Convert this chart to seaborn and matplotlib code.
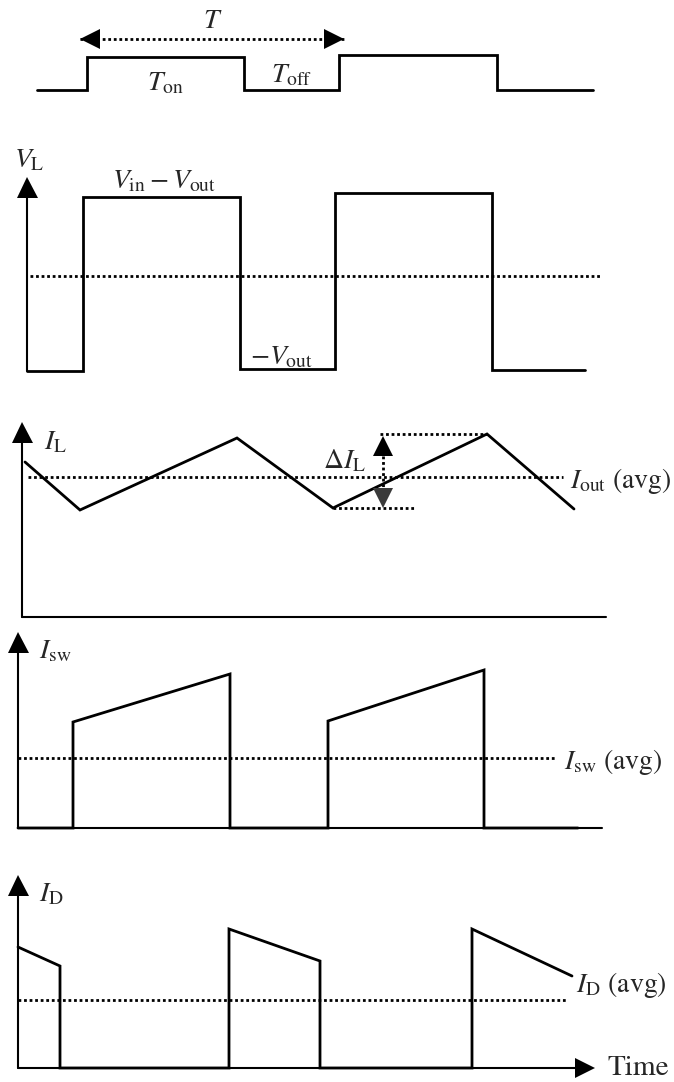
import matplotlib
matplotlib.use("Agg")
import matplotlib.pyplot as plt
import seaborn as sns

sns.set_theme(style="white")
plt.rcParams["font.family"] = ["STIXGeneral", "DejaVu Serif"]
plt.rcParams["mathtext.fontset"] = "stix"

# ---- waveform data (shared time axis, arbitrary units) ----
# gate drive signal
gate_t = [1.9, 6.9, 6.9, 22.6, 22.6, 32.1, 32.1, 47.9, 47.9, 57.5]
gate_v = [0, 0, 3.3, 3.3, 0, 0, 3.5, 3.5, 0, 0]
period_span = [6.2, 32.6]

# inductor voltage
vl_t = [0.9, 6.5, 6.5, 22.2, 22.2, 31.7, 31.7, 47.4, 47.4, 56.7]
vl_v = [-9.5, -9.5, 7.9, 7.9, -9.3, -9.3, 8.3, 8.3, -9.4, -9.4]
vl_avg = 0.0

# inductor current
il_t = [0.7, 6.2, 21.9, 31.5, 46.9, 55.6]
il_v = [15.5, 10.7, 17.9, 10.9, 18.3, 10.8]
il_avg = 14.0

# switch current
isw_t = [0.0, 5.5, 5.5, 21.2, 21.2, 31.0, 31.0, 46.6, 46.6, 56.0]
isw_v = [0, 0, 10.6, 15.4, 0, 0, 10.7, 15.8, 0, 0]
isw_avg = 7.0

# diode current
id_t = [0.0, 4.2, 4.2, 21.1, 21.1, 30.2, 30.2, 45.4, 45.4, 55.4]
id_v = [12.1, 10.2, 0, 0, 13.9, 10.7, 0, 0, 13.9, 9.2]
id_avg = 6.8

# panel bands on the page: (top, bottom, baseline) in pixels
W, H = 674, 1082
SCALE = 10.0
bands = {
    "gate": (0, 125, 90),
    "vl": (125, 400, 276),
    "il": (400, 630, 617),
    "isw": (630, 845, 828),
    "id": (845, 1082, 1068),
}

LW = 2.0
AXLW = 1.5
DOT = dict(color="black", linestyle=(0, (1.0, 1.0)), linewidth=2.0,
           dash_capstyle="butt")
FS = 20

fig = plt.figure(figsize=(W / 100, H / 100), dpi=100)
fig.patch.set_facecolor("white")


def make_axes(key):
    top, bottom, base = bands[key]
    ax = fig.add_axes([0, 1 - bottom / H, 1, (bottom - top) / H])
    ax.set_xlim(-18 / SCALE, (W - 18) / SCALE)
    ax.set_ylim((base - bottom) / SCALE, (base - top) / SCALE)
    ax.set_axis_off()
    return ax


def trace(ax, t, v):
    sns.lineplot(x=t, y=v, ax=ax, sort=False, estimator=None,
                 color="black", linewidth=LW, legend=False)
    for ln in ax.lines:
        ln.set_solid_joinstyle("miter")


def dotted(ax, t0, t1, y):
    ax.plot([t0, t1], [y, y], **DOT)


def up_arrow_axis(ax, t, y0, tip, head=2.0, color="black"):
    ax.plot([t, t], [y0, tip - head], color="black", linewidth=AXLW)
    ax.plot([t], [tip - head / 2], marker="^", markersize=head * 10 * 0.72 * 1.05,
            color=color, markeredgewidth=0)


# ---- gate signal ----
ax = make_axes("gate")
trace(ax, gate_t, gate_v)
ax.plot(period_span, [5.1, 5.1], **DOT)
ax.plot([period_span[0] + 1.0], [5.1], marker="<", markersize=15,
        color="black", markeredgewidth=0)
ax.plot([period_span[1] - 1.0], [5.1], marker=">", markersize=15,
        color="black", markeredgewidth=0)
ax.text(19.5, 6.9, r"$T$", fontsize=FS, ha="center", va="center")
ax.text(14.7, 0.6, r"$T_{\mathrm{on}}$", fontsize=FS, ha="center", va="center")
ax.text(27.4, 1.4, r"$T_{\mathrm{off}}$", fontsize=FS, ha="center", va="center")

# ---- inductor voltage ----
ax = make_axes("vl")
up_arrow_axis(ax, 0.9, -9.5, 9.9)
trace(ax, vl_t, vl_v)
dotted(ax, 1.2, 58.2, vl_avg)
ax.text(1.1, 11.5, r"$V_{\mathrm{L}}$", fontsize=FS, ha="center", va="center")
ax.text(14.6, 9.4, r"$V_{\mathrm{in}} - V_{\mathrm{out}}$", fontsize=FS,
        ha="center", va="center")
ax.text(26.3, -8.2, r"$-V_{\mathrm{out}}$", fontsize=FS, ha="center", va="center")

# ---- inductor current ----
ax = make_axes("il")
up_arrow_axis(ax, 0.4, 0, 19.5)
ax.plot([0.4, 58.8], [0, 0], color="black", linewidth=AXLW)
trace(ax, il_t, il_v)
dotted(ax, 1.0, 54.5, il_avg)
ripple_top, ripple_bot = max(il_v[3:5]), min(il_v[3:5])
dotted(ax, 36.2, il_t[4], ripple_top)
dotted(ax, il_t[3], 39.7, ripple_bot)
ax.plot([36.5, 36.5], [ripple_top - 2.2, ripple_bot + 2.0], **DOT)
ax.plot([36.5], [ripple_top - 1.2], marker="^", markersize=15,
        color="black", markeredgewidth=0)
ax.plot([36.5], [ripple_bot + 1.05], marker="v", markersize=15,
        color="#3a3a3a", markeredgewidth=0)
ax.text(2.6, 17.4, r"$I_{\mathrm{L}}$", fontsize=FS, ha="left", va="center")
ax.text(32.6, 15.6, r"$\Delta I_{\mathrm{L}}$", fontsize=FS, ha="center",
        va="center")
ax.text(55.2, 13.6, r"$I_{\mathrm{out}}$ (avg)", fontsize=FS, ha="left",
        va="center")

# ---- switch current ----
ax = make_axes("isw")
up_arrow_axis(ax, 0.0, 0, 19.6)
ax.plot([0, 58.4], [0, 0], color="black", linewidth=AXLW)
trace(ax, isw_t, isw_v)
dotted(ax, 0.0, 53.8, isw_avg)
ax.text(2.1, 17.6, r"$I_{\mathrm{sw}}$", fontsize=FS, ha="left", va="center")
ax.text(54.6, 6.6, r"$I_{\mathrm{sw}}$ (avg)", fontsize=FS, ha="left",
        va="center")

# ---- diode current ----
ax = make_axes("id")
up_arrow_axis(ax, 0.0, 0, 19.3)
ax.plot([0, 55.7], [0, 0], color="black", linewidth=AXLW)
ax.plot([56.7], [0], marker=">", markersize=15, color="black",
        markeredgewidth=0)
trace(ax, id_t, id_v)
dotted(ax, 0.0, 54.8, id_avg)
ax.text(2.1, 17.3, r"$I_{\mathrm{D}}$", fontsize=FS, ha="left", va="center")
ax.text(55.8, 8.3, r"$I_{\mathrm{D}}$ (avg)", fontsize=FS, ha="left",
        va="center")
ax.text(58.9, 0.0, "Time", fontsize=FS + 1, ha="left", va="center")

fig.savefig("out.png", dpi=100, facecolor="white")
